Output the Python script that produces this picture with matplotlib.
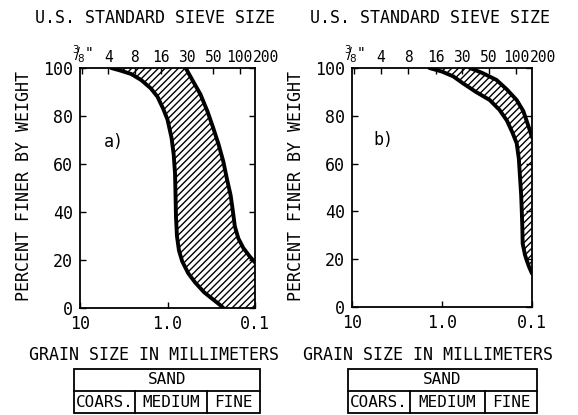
import numpy as np
import matplotlib
matplotlib.use("Agg")
import matplotlib.pyplot as plt
from matplotlib.patches import Rectangle
from matplotlib.lines import Line2D

plt.rcParams['font.family'] = ['DejaVu Sans Mono', 'DejaVu Sans']
plt.rcParams['mathtext.fontset'] = 'dejavusans'
plt.rcParams['hatch.linewidth'] = 1.0

# sieve numbers and their opening sizes (mm)
sieve_labels = [r'$^{3}\!\!/\!_{8}$"', '4', '8', '16', '30', '50', '100', '200']
sieve_mm = [9.5, 4.75, 2.36, 1.18, 0.6, 0.3, 0.15, 0.075]

x_ticks = [10, 1.0, 0.1]
x_ticklabels = ['10', '1.0', '0.1']
y_ticks = [0, 20, 40, 60, 80, 100]

# band a) - coarse (left) boundary, grain size mm / percent finer
a_left_d = [4.4, 3.5, 2.6, 2.0, 1.55, 1.3, 1.12, 1.0, 0.9, 0.85, 0.82, 0.81,
            0.80, 0.78, 0.74, 0.68, 0.58, 0.48, 0.38, 0.30, 0.25, 0.23]
a_left_p = [100, 99, 97.5, 95, 91.5, 88, 83, 78.5, 71, 64, 56, 47.5,
            38, 30, 24, 19.5, 14.5, 10.5, 6.5, 3.5, 1.2, 0]
# band a) - fine (right) boundary
a_right_d = [0.62, 0.52, 0.42, 0.35, 0.30, 0.26, 0.23, 0.21, 0.19, 0.18,
             0.17, 0.155, 0.136, 0.115, 0.1]
a_right_p = [100, 95, 89, 82, 75, 68, 61, 54, 47, 41, 34, 29, 25, 21.5, 19]

# band b)
b_left_d = [1.38, 1.0, 0.75, 0.585, 0.42, 0.295, 0.23, 0.19, 0.165, 0.148,
            0.14, 0.136, 0.132, 0.130, 0.128, 0.127, 0.12, 0.115, 0.107, 0.1]
b_left_p = [100, 98.5, 96.5, 93.6, 90, 86.6, 82.5, 78, 73, 68.5,
            62, 54.5, 47, 40.6, 33, 26.6, 22, 19.7, 16.5, 14]
b_right_d = [0.49, 0.36, 0.248, 0.19, 0.148, 0.125, 0.115, 0.107, 0.1]
b_right_p = [100, 98, 95, 91, 86.6, 82, 78, 74.5, 71]

panels = [
    dict(name='a)', rect=(80, 68, 255, 308), ld=a_left_d, lp=a_left_p,
         rd=a_right_d, rp=a_right_p, title_x=155, ylab_x=24, label_pos=(4.1, 69)),
    dict(name='b)', rect=(352, 68, 532, 307), ld=b_left_d, lp=b_left_p,
         rd=b_right_d, rp=b_right_p, title_x=430, ylab_x=296, label_pos=(4.5, 70)),
]

W, H = 578, 415
fig = plt.figure(figsize=(W / 100, H / 100), dpi=100)


def fx(x):
    return x / W


def fy(y):
    return 1 - y / H


for p in panels:
    x0, y0, x1, y1 = p['rect']
    ax = fig.add_axes([fx(x0), fy(y1), (x1 - x0) / W, (y1 - y0) / H])
    ax.set_xscale('log')
    ax.set_xlim(10, 0.1)
    ax.set_ylim(0, 100)
    ax.set_xticks(x_ticks)
    ax.set_xticklabels(x_ticklabels)
    ax.minorticks_off()
    ax.set_yticks(y_ticks)
    ax.tick_params(axis='both', direction='in', length=4, width=1.0,
                   labelsize=12, pad=5)
    ax.tick_params(axis='y', right=True)
    for s in ax.spines.values():
        s.set_linewidth(1.3)

    # hatched band
    ld, lp = np.array(p['ld']), np.array(p['lp'])
    rd, rp = np.array(p['rd']), np.array(p['rp'])
    poly_d = np.concatenate([ld, [0.1], rd[::-1]])
    poly_p = np.concatenate([lp, [0], rp[::-1]])
    ax.fill(poly_d, poly_p, facecolor='none', edgecolor='black',
            hatch='/////', linewidth=0)
    ax.plot(ld, lp, color='black', lw=2.8, solid_capstyle='round')
    ax.plot(rd, rp, color='black', lw=2.8, solid_capstyle='round')

    ax.text(p['label_pos'][0], p['label_pos'][1], p['name'], fontsize=12,
            ha='center', va='center')

    # sieve ticks along the top
    sec = ax.secondary_xaxis('top')
    sec.set_xticks([m for m in sieve_mm if m >= 0.1])
    sec.set_xticklabels([])
    sec.minorticks_off()
    sec.tick_params(direction='in', length=4, width=1.0)
    sec.spines['top'].set_visible(False)
    trans = ax.get_xaxis_transform()
    for lab, m in zip(sieve_labels, sieve_mm):
        ax.text(m, 1.012, lab, transform=trans, fontsize=10.5, ha='center',
                va='bottom', clip_on=False)

    fig.text(fx(p['title_x']), fy(18), 'U.S. STANDARD SIEVE SIZE',
             fontsize=12, ha='center', va='center')
    fig.text(fx(p['ylab_x']), fy(186), 'PERCENT FINER BY WEIGHT',
             fontsize=12, ha='center', va='center', rotation=90)

# grain size captions and sand classification tables
grain_caption = 'GRAIN SIZE IN MILLIMETERS'
sand_label = 'SAND'
sand_parts = ['COARS.', 'MEDIUM', 'FINE']
caption_x = [154, 428]
table_cols = [(74, 135, 207, 260), (348, 410, 485, 537)]

for cx, cols in zip(caption_x, table_cols):
    fig.text(fx(cx), fy(355), grain_caption, fontsize=12,
             ha='center', va='center')
    top, mid, bot = 369, 391, 413
    lw = 1.3
    fig.add_artist(Rectangle((fx(cols[0]), fy(bot)),
                             (cols[3] - cols[0]) / W, (bot - top) / H,
                             transform=fig.transFigure, fill=False, lw=lw))
    fig.add_artist(Line2D([fx(cols[0]), fx(cols[3])], [fy(mid), fy(mid)],
                          transform=fig.transFigure, color='black', lw=lw))
    for c in cols[1:3]:
        fig.add_artist(Line2D([fx(c), fx(c)], [fy(mid), fy(bot)],
                              transform=fig.transFigure, color='black', lw=lw))
    fig.text(fx((cols[0] + cols[3]) / 2), fy((top + mid) / 2), sand_label,
             fontsize=11.5, ha='center', va='center')
    for lab, a, b in zip(sand_parts, cols[:3], cols[1:]):
        fig.text(fx((a + b) / 2), fy((mid + bot) / 2), lab,
                 fontsize=11.5, ha='center', va='center')

fig.savefig('out.png', dpi=100)
